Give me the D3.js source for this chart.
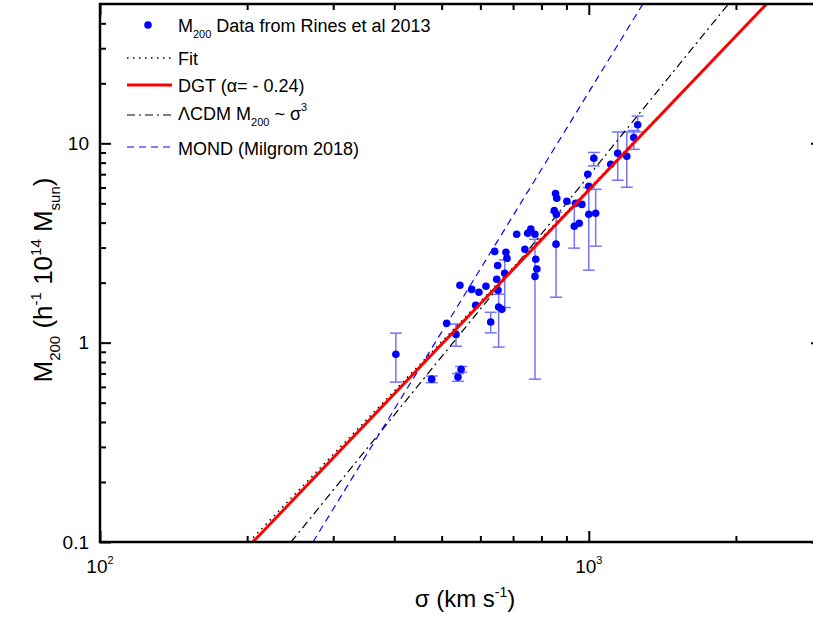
<!DOCTYPE html>
<html>
<head>
<meta charset="utf-8">
<script src="https://cdn.jsdelivr.net/npm/d3@7"></script>
<style>
  body { margin: 0; background: #fff; }
  svg { display: block; font-family: Arial, "Liberation Sans", sans-serif; }
</style>
</head>
<body>
<div id="app"></div>
<script>
const width = 813,
  height = 618;

// velocity dispersion (km/s), M200 (1e14 Msun/h), error bar ends
const sigma = [403, 477, 540, 548, 512, 535, 545, 576, 596, 616, 587, 630, 642, 651, 648, 652, 654, 664, 677, 680, 673,
  712, 750, 761, 776, 740, 779, 783, 776, 857, 934, 956, 1259, 1236, 1146, 1196, 1109, 1024, 995, 1000, 902, 940, 968,
  1000, 1033, 855, 860, 850, 858];
const m200 = [0.875, 0.656, 0.672, 0.736, 1.25, 1.10, 1.94, 1.85, 1.79, 1.92, 1.54, 1.27, 2.87, 2.44, 2.08, 1.83, 1.51, 1.47, 2.84, 2.65, 2.23,
  3.50, 3.54, 3.71, 3.50, 2.94, 2.62, 2.34, 2.15, 3.12, 3.84, 3.97, 12.4, 10.7, 8.91, 8.61, 7.85, 8.41, 7.0, 6.08, 5.12, 5.0, 4.94,
  4.41, 4.46, 5.6, 5.3, 4.6, 4.4];
const mLo = [0.634, 0.63, 0.64, 0.71, null, 0.96, null, null, null, null, null, 1.12, null, null, null, null, 0.95, null, null, null, 1.5,
  null, null, null, null, null, null, null, 0.656, 1.69, 2.98, null, 11.4, 9.33, 6.53, 6.02, null, 7.7, null, null, null, null, null,
  2.31, 3.05, null, null, null, null];
const mHi = [1.116, 0.68, 0.70, 0.76, null, 1.24, null, null, null, null, null, 1.42, null, null, null, null, 1.75, null, null, null, 2.6,
  null, null, null, null, null, null, null, 3.3, 4.5, 5.0, null, 13.7, 11.6, 11.4, 11.4, null, 9.0, null, null, null, null, null,
  6.0, 5.88, null, null, null, null];

// model lines (end points, sigma km/s -> M200)
const fitLine = [[201.7, 0.1], [2312, 50]];
const dgtLine = [[205.5, 0.1], [2310, 50]];
const lcdmLine = [[245.9, 0.1], [1930, 50]];
const mondLine = [[272.7, 0.1], [1290, 50]];

const xMajor = [100, 1000], xMinor = [200, 300, 400, 500, 600, 700, 800, 900, 2000];
const yMajor = [0.1, 1, 10], yMinor = [0.2, 0.3, 0.4, 0.5, 0.6, 0.7, 0.8, 0.9, 2, 3, 4, 5, 6, 7, 8, 9, 20, 30, 40];
const xLabels = [["10", "2"], ["10", "3"]];
const yLabels = ["0.1", "1", "10"];

const svg = d3.select("#app").append("svg")
  .attr("width", width)
  .attr("height", height);

const x = d3.scaleLog().domain([100, 3000]).range([100, 822]);
const y = d3.scaleLog().domain([0.1, 50]).range([542, 4]);

svg.append("defs").append("clipPath").attr("id", "plot")
  .append("rect").attr("x", 100).attr("y", 4).attr("width", 722).attr("height", 538);

const plot = svg.append("g").attr("clip-path", "url(#plot)");

// error bars
const errs = sigma.map((s, i) => ({ s, lo: mLo[i], hi: mHi[i] })).filter(d => d.lo != null);
const eb = plot.append("g").attr("stroke", "#7474ff").attr("stroke-width", 1.5);
eb.selectAll("line.v").data(errs).join("line")
  .attr("x1", d => x(d.s)).attr("x2", d => x(d.s))
  .attr("y1", d => y(d.lo)).attr("y2", d => y(d.hi));
eb.selectAll("line.lo").data(errs).join("line")
  .attr("x1", d => x(d.s) - 6).attr("x2", d => x(d.s) + 6)
  .attr("y1", d => y(d.lo)).attr("y2", d => y(d.lo));
eb.selectAll("line.hi").data(errs).join("line")
  .attr("x1", d => x(d.s) - 6).attr("x2", d => x(d.s) + 6)
  .attr("y1", d => y(d.hi)).attr("y2", d => y(d.hi));

const line = d3.line().x(d => x(d[0])).y(d => y(d[1]));

plot.append("path").datum(fitLine).attr("d", line)
  .style("fill", "none").style("stroke", "#000").style("stroke-width", 1.5).style("stroke-dasharray", "1.5,4.5");
plot.append("path").datum(lcdmLine).attr("d", line)
  .style("fill", "none").style("stroke", "#000").style("stroke-width", 1.2).style("stroke-dasharray", "8,4,2,4");
plot.append("path").datum(mondLine).attr("d", line)
  .style("fill", "none").style("stroke", "#0000ff").style("stroke-width", 1.2).style("stroke-dasharray", "7,5");

plot.append("g").selectAll("circle").data(sigma).join("circle")
  .attr("cx", d => x(d))
  .attr("cy", (d, i) => y(m200[i]))
  .attr("r", 3.8)
  .style("fill", "#0000ff");

plot.append("path").datum(dgtLine).attr("d", line)
  .style("fill", "none").style("stroke", "#ff0000").style("stroke-width", 3);

// axes, ticks inward on all four sides
const axes = svg.append("g");
axes.append("rect").attr("x", 100).attr("y", 4).attr("width", 722).attr("height", 538)
  .style("fill", "none").style("stroke", "#000").style("stroke-width", 2.5);

axes.append("g").attr("transform", "translate(0,542)").call(d3.axisBottom(x).tickValues(xMajor).tickSize(-11).tickFormat(""));
axes.append("g").attr("transform", "translate(0,542)").call(d3.axisBottom(x).tickValues(xMinor).tickSize(-6).tickFormat(""));
axes.append("g").attr("transform", "translate(0,4)").call(d3.axisTop(x).tickValues(xMajor).tickSize(-11).tickFormat(""));
axes.append("g").attr("transform", "translate(0,4)").call(d3.axisTop(x).tickValues(xMinor).tickSize(-6).tickFormat(""));
axes.append("g").attr("transform", "translate(100,0)").call(d3.axisLeft(y).tickValues(yMajor).tickSize(-11).tickFormat(""));
axes.append("g").attr("transform", "translate(100,0)").call(d3.axisLeft(y).tickValues(yMinor).tickSize(-6).tickFormat(""));
axes.append("g").attr("transform", "translate(822,0)").call(d3.axisRight(y).tickValues(yMajor).tickSize(-11).tickFormat(""));
axes.append("g").attr("transform", "translate(822,0)").call(d3.axisRight(y).tickValues(yMinor).tickSize(-6).tickFormat(""));
axes.selectAll(".domain").remove();
axes.selectAll(".tick line").style("stroke", "#000").style("stroke-width", 2);

// tick labels
svg.append("g").selectAll("text").data(xMajor).join("text")
  .attr("x", d => x(d))
  .attr("y", 573)
  .attr("text-anchor", "middle")
  .style("font-size", "19px")
  .each(function (d, i) {
    const t = d3.select(this);
    t.append("tspan").text(xLabels[i][0]);
    t.append("tspan").attr("dy", -9).style("font-size", "11px").text(xLabels[i][1]);
  });

svg.append("g").selectAll("text").data(yMajor).join("text")
  .attr("x", 89)
  .attr("y", d => y(d))
  .attr("dy", "0.35em")
  .attr("text-anchor", "end")
  .style("font-size", "19px")
  .text((d, i) => yLabels[i]);

// axis titles
const xt = svg.append("text")
  .attr("x", 465).attr("y", 607)
  .attr("text-anchor", "middle")
  .style("font-size", "24px");
xt.append("tspan").text("σ (km s");
xt.append("tspan").attr("dy", -10).style("font-size", "14px").text("-1");
xt.append("tspan").attr("dy", 10).text(")");

const yt = svg.append("text")
  .attr("transform", "translate(52,280) rotate(-90)")
  .attr("text-anchor", "middle")
  .style("font-size", "26px");
yt.append("tspan").text("M");
yt.append("tspan").attr("dy", 8).style("font-size", "15px").text("200");
yt.append("tspan").attr("dy", -8).text(" (h");
yt.append("tspan").attr("dy", -11).style("font-size", "15px").text("-1");
yt.append("tspan").attr("dy", 11).text(" 10");
yt.append("tspan").attr("dy", -11).style("font-size", "15px").text("14");
yt.append("tspan").attr("dy", 11).text(" M");
yt.append("tspan").attr("dy", 8).style("font-size", "15px").text("sun");
yt.append("tspan").attr("dy", -8).text(")");

// legend
const legend = svg.append("g").style("font-size", "18px");
legend.append("circle").attr("cx", 148).attr("cy", 25).attr("r", 3.8).style("fill", "#0000ff");
const l1 = legend.append("text").attr("x", 178).attr("y", 32);
l1.append("tspan").text("M");
l1.append("tspan").attr("dy", 6).style("font-size", "11px").text("200");
l1.append("tspan").attr("dy", -6).text(" Data from Rines et al 2013");

legend.append("line").attr("x1", 127).attr("x2", 172).attr("y1", 58).attr("y2", 58)
  .style("stroke", "#000").style("stroke-width", 1.5).style("stroke-dasharray", "1.5,4.5");
legend.append("text").attr("x", 178).attr("y", 65).text("Fit");

legend.append("line").attr("x1", 127).attr("x2", 172).attr("y1", 85).attr("y2", 85)
  .style("stroke", "#ff0000").style("stroke-width", 3);
legend.append("text").attr("x", 178).attr("y", 92).text("DGT (α= - 0.24)");

legend.append("line").attr("x1", 127).attr("x2", 172).attr("y1", 115).attr("y2", 115)
  .style("stroke", "#000").style("stroke-width", 1.2).style("stroke-dasharray", "8,4,2,4");
const l4 = legend.append("text").attr("x", 178).attr("y", 120);
l4.append("tspan").text("ΛCDM M");
l4.append("tspan").attr("dy", 6).style("font-size", "11px").text("200");
l4.append("tspan").attr("dy", -6).text(" ~ σ");
l4.append("tspan").attr("dy", -9).style("font-size", "11px").text("3");

legend.append("line").attr("x1", 127).attr("x2", 172).attr("y1", 147).attr("y2", 147)
  .style("stroke", "#0000ff").style("stroke-width", 1.2).style("stroke-dasharray", "7,5");
legend.append("text").attr("x", 178).attr("y", 155).text("MOND (Milgrom 2018)");
</script>
</body>
</html>
